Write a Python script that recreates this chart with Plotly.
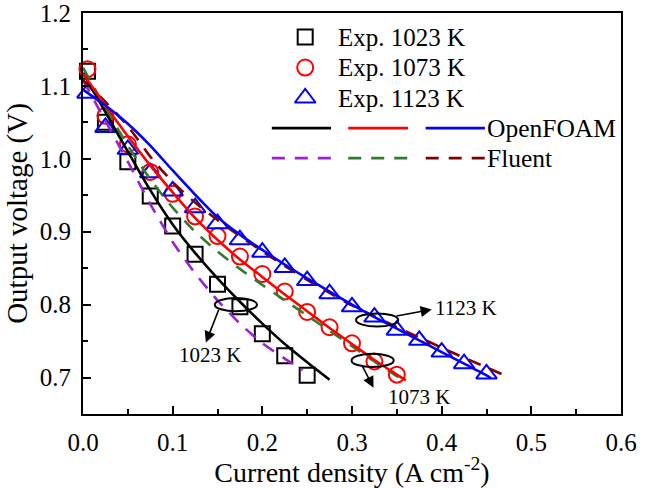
import plotly.graph_objects as go

# ---------------- data ----------------
# experimental points (current density A cm-2, voltage V)
x_exp_1023 = [0.005, 0.025, 0.05, 0.075, 0.1, 0.125, 0.15, 0.175, 0.2, 0.225, 0.25]
v_exp_1023 = [1.12, 1.05, 0.996, 0.949, 0.908, 0.869, 0.828, 0.797, 0.760, 0.730, 0.703]

x_exp_1073 = [0.005, 0.025, 0.05, 0.075, 0.1, 0.125, 0.15, 0.175, 0.2, 0.225, 0.25, 0.275, 0.3, 0.325, 0.35]
v_exp_1073 = [1.123, 1.059, 1.02, 0.982, 0.952, 0.921, 0.894, 0.866, 0.842, 0.818, 0.790, 0.769, 0.747, 0.722, 0.704]

x_exp_1123 = [0.005, 0.025, 0.05, 0.075, 0.1, 0.125, 0.15, 0.175, 0.2, 0.225, 0.25, 0.275, 0.3,
              0.325, 0.35, 0.375, 0.4, 0.425, 0.45]
v_exp_1123 = [1.09, 1.043, 1.013, 0.981, 0.956, 0.933, 0.911, 0.889, 0.872, 0.851, 0.833, 0.815, 0.797,
              0.783, 0.765, 0.751, 0.735, 0.719, 0.705]

# OpenFOAM simulations
x_of_1023 = [0, 0.025, 0.05, 0.075, 0.1, 0.125, 0.15, 0.175, 0.2, 0.225, 0.25, 0.275]
v_of_1023 = [1.118, 1.064, 1.01, 0.957, 0.91, 0.871, 0.836, 0.804, 0.774, 0.746, 0.721, 0.697]

x_of_1073 = [0, 0.025, 0.05, 0.075, 0.1, 0.125, 0.15, 0.175, 0.2, 0.225, 0.25, 0.275, 0.3, 0.325, 0.35, 0.36]
v_of_1073 = [1.117, 1.073, 1.031, 0.991, 0.954, 0.919, 0.889, 0.862, 0.838, 0.814, 0.791, 0.768, 0.746,
             0.724, 0.704, 0.696]

x_of_1123 = [0, 0.025, 0.05, 0.075, 0.1, 0.125, 0.15, 0.175, 0.2, 0.225, 0.25, 0.275, 0.3, 0.325,
             0.35, 0.375, 0.4, 0.425, 0.45, 0.455]
v_of_1123 = [1.095, 1.073, 1.048, 1.018, 0.984, 0.951, 0.92, 0.896, 0.875, 0.855, 0.836, 0.818, 0.800,
             0.783, 0.767, 0.751, 0.735, 0.719, 0.703, 0.699]

# Fluent simulations
x_fl_1023 = [0, 0.025, 0.05, 0.075, 0.1, 0.125, 0.15, 0.175, 0.2, 0.225, 0.245]
v_fl_1023 = [1.108, 1.052, 0.996, 0.938, 0.886, 0.843, 0.806, 0.774, 0.747, 0.726, 0.71]

x_fl_1073 = [0, 0.025, 0.05, 0.075, 0.1, 0.125, 0.15, 0.175, 0.2, 0.225, 0.25, 0.275, 0.3, 0.325, 0.35, 0.358]
v_fl_1073 = [1.125, 1.07, 1.018, 0.972, 0.933, 0.9, 0.873, 0.849, 0.827, 0.806, 0.785, 0.764, 0.743,
             0.722, 0.702, 0.696]

x_fl_1123 = [0, 0.025, 0.05, 0.075, 0.1, 0.125, 0.15, 0.175, 0.2, 0.225, 0.25, 0.275, 0.3, 0.325,
             0.35, 0.375, 0.4, 0.425, 0.45, 0.47]
v_fl_1123 = [1.108, 1.078, 1.045, 1.003, 0.968, 0.94, 0.916, 0.894, 0.873, 0.853, 0.834, 0.816, 0.799,
             0.784, 0.769, 0.755, 0.741, 0.727, 0.714, 0.703]

x_ticks = [0.0, 0.1, 0.2, 0.3, 0.4, 0.5, 0.6]
y_ticks = [0.7, 0.8, 0.9, 1.0, 1.1, 1.2]

exp_labels = ["Exp. 1023 K", "Exp. 1073 K", "Exp. 1123 K"]
model_labels = ["OpenFOAM", "Fluent"]
temp_labels = ["1023 K", "1073 K", "1123 K"]

# ---------------- styles ----------------
FONT = "Liberation Serif, Times New Roman, serif"
C_BLACK, C_RED, C_BLUE = "#000000", "#ff0000", "#0000ff"
C_PURPLE, C_GREEN, C_BROWN = "#a020d0", "#2e7d2e", "#800000"
DASH = "13px,10px"
LW = 2.6

fig = go.Figure()

def marker_trace(x, y, sym, color, size):
    return go.Scatter(x=x, y=y, mode="markers", cliponaxis=False, showlegend=False,
                      marker=dict(symbol=sym, size=size, color=color,
                                  line=dict(width=2, color=color)))

def line_trace(x, y, color, dash=None):
    return go.Scatter(x=x, y=y, mode="lines", showlegend=False, cliponaxis=False,
                      line=dict(color=color, width=LW, dash=dash, shape="spline", smoothing=0.6))

fig.add_trace(marker_trace(x_exp_1023, v_exp_1023, "square-open", C_BLACK, 15))
fig.add_trace(marker_trace(x_exp_1073, v_exp_1073, "circle-open", C_RED, 16))
fig.add_trace(marker_trace(x_exp_1123, v_exp_1123, "triangle-up-open", C_BLUE, 18))

fig.add_trace(line_trace(x_fl_1023, v_fl_1023, C_PURPLE, DASH))
fig.add_trace(line_trace(x_fl_1073, v_fl_1073, C_GREEN, DASH))
fig.add_trace(line_trace(x_fl_1123, v_fl_1123, C_BROWN, DASH))
fig.add_trace(line_trace(x_of_1023, v_of_1023, C_BLACK))
fig.add_trace(line_trace(x_of_1073, v_of_1073, C_RED))
fig.add_trace(line_trace(x_of_1123, v_of_1123, C_BLUE))

# ---------------- manual legend (plot-area fractions) ----------------
leg_sym_x = 0.413
leg_txt_x = 0.470
leg_rows = [0.940, 0.864, 0.788]
leg_syms = [("square-open", C_BLACK, 15), ("circle-open", C_RED, 16), ("triangle-up-open", C_BLUE, 18)]
for (sym, col, sz), ry, lab in zip(leg_syms, leg_rows, exp_labels):
    fig.add_trace(go.Scatter(x=[leg_sym_x], y=[ry], xaxis="x2", yaxis="y2", mode="markers",
                             showlegend=False, hoverinfo="skip",
                             marker=dict(symbol=sym, size=sz, color=col, line=dict(width=2, color=col))))
    fig.add_annotation(x=leg_txt_x, y=ry, xref="paper", yref="paper", text=lab, showarrow=False,
                       xanchor="left", yanchor="middle", font=dict(size=25, family=FONT, color="black"))

seg_x = [(0.351, 0.461), (0.493, 0.604), (0.637, 0.747)]
row_of, row_fl = 0.713, 0.638
for (a, b), col in zip(seg_x, [C_BLACK, C_RED, C_BLUE]):
    fig.add_shape(type="line", xref="paper", yref="paper", x0=a, x1=b, y0=row_of, y1=row_of,
                  line=dict(color=col, width=LW))
for (a, b), col in zip(seg_x, [C_PURPLE, C_GREEN, C_BROWN]):
    fig.add_shape(type="line", xref="paper", yref="paper", x0=a, x1=b, y0=row_fl, y1=row_fl,
                  line=dict(color=col, width=LW, dash=DASH))
for ry, lab in zip([row_of, row_fl], model_labels):
    fig.add_annotation(x=0.747, y=ry, xref="paper", yref="paper", text=lab, showarrow=False,
                       xanchor="left", yanchor="middle", font=dict(size=25.5, family=FONT, color="black"))

# ---------------- ellipses, arrows and labels ----------------
ellipses = [(0.1705, 0.800), (0.323, 0.7235), (0.328, 0.779)]
ew, eh = 0.047, 0.018
for cx, cy in ellipses:
    fig.add_shape(type="circle", xref="x", yref="y", x0=cx - ew / 2, x1=cx + ew / 2,
                  y0=cy - eh / 2, y1=cy + eh / 2, line=dict(color="black", width=2))

arrows = [  # (tail x, tail y, head x, head y)
    (0.152, 0.795, 0.137, 0.748),
    (0.311, 0.717, 0.324, 0.686),
    (0.348, 0.784, 0.389, 0.7935),
]
for tx, ty, hx, hy in arrows:
    fig.add_annotation(x=hx, y=hy, ax=tx, ay=ty, xref="x", yref="y", axref="x", ayref="y",
                       text="", showarrow=True, arrowhead=2, arrowsize=1.4, arrowwidth=1.6,
                       arrowcolor="black", standoff=0, startstandoff=0)

label_pos = [(0.142, 0.731, "center"), (0.375, 0.673, "center"), (0.390, 0.795, "left")]
for (lx, ly, anc), lab in zip(label_pos, temp_labels):
    fig.add_annotation(x=lx, y=ly, xref="x", yref="y", text=lab, showarrow=False,
                       xanchor=anc, yanchor="middle", font=dict(size=21, family=FONT, color="black"))

# ---------------- axes / layout ----------------
axis_common = dict(showgrid=False, zeroline=False, showline=True, linecolor="black", linewidth=2,
                   mirror=True, ticks="inside", ticklen=8, tickwidth=1.5, tickcolor="black",
                   tickfont=dict(size=25, family=FONT, color="black"), tickformat=".1f",
                   ticklabelstandoff=5, automargin=False, ticklabeloverflow="allow")

fig.update_layout(
    width=646, height=488,
    margin=dict(l=83, r=25, t=13, b=74),
    paper_bgcolor="white", plot_bgcolor="white",
    showlegend=False,
    xaxis=dict(range=[0, 0.6], tickvals=x_ticks,
               minor=dict(ticks="inside", dtick=0.05, ticklen=5, tickwidth=1.5, tickcolor="black"),
               title=dict(text="Current density (A cm<sup>-2</sup>)", standoff=5,
                          font=dict(size=28, family=FONT, color="black")),
               **axis_common),
    yaxis=dict(range=[0.65, 1.2], tickvals=y_ticks,
               minor=dict(ticks="inside", dtick=0.05, ticklen=5, tickwidth=1.5, tickcolor="black"),
               title=dict(text="Output voltage (V)", standoff=4,
                          font=dict(size=29, family=FONT, color="black")),
               **axis_common),
    xaxis2=dict(overlaying="x", range=[0, 1], visible=False, anchor="y2"),
    yaxis2=dict(overlaying="y", range=[0, 1], visible=False, anchor="x2"),
)

fig.write_html("out.html")
